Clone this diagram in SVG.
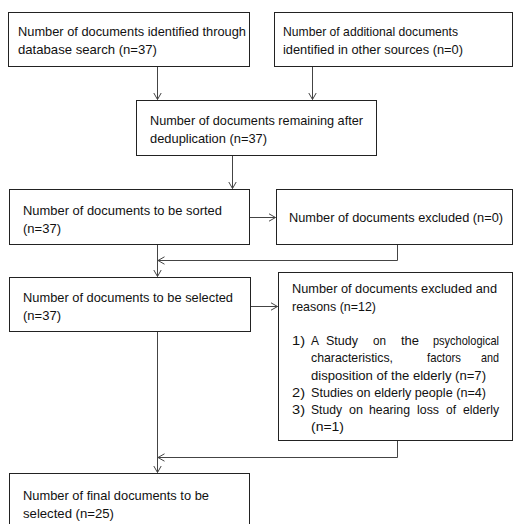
<svg xmlns="http://www.w3.org/2000/svg" width="514" height="524" viewBox="0 0 514 524">
<style>
.box{fill:#fff;stroke:#222;stroke-width:1}
.t{font-family:"Liberation Sans","DejaVu Sans",sans-serif;font-size:13px;fill:#111}
.c{fill:none;stroke:#444;stroke-width:1}
</style>
<defs>
<marker id="ah" markerUnits="userSpaceOnUse" markerWidth="8" markerHeight="9" viewBox="0 0 8 9" refX="7" refY="4.5" orient="auto">
<path d="M0.5,0.8 L7,4.5 L0.5,8.2" fill="none" stroke="#444" stroke-width="1"/>
</marker>
</defs>
<rect width="514" height="524" fill="#fff"/>
<g id="connectors">
<path class="c" d="M157.5,67 V99.5" marker-end="url(#ah)"/>
<path class="c" d="M312.5,67 V99.5" marker-end="url(#ah)"/>
<path class="c" d="M232.5,156 V188.5" marker-end="url(#ah)"/>
<path class="c" d="M249.5,217.5 H275.5" marker-end="url(#ah)"/>
<path class="c" d="M397.5,245 V260.5 H158" marker-end="url(#ah)"/>
<path class="c" d="M157.5,245 V276.5" marker-end="url(#ah)"/>
<path class="c" d="M250.5,306.5 H277.5" marker-end="url(#ah)"/>
<path class="c" d="M397.5,441 V457.5 H158" marker-end="url(#ah)"/>
<path class="c" d="M157.5,332 V472.5" marker-end="url(#ah)"/>
</g>
<g id="n1">
<rect class="box" x="8.5" y="12.5" width="241" height="54"/>
<text class="t" x="18" y="36" textLength="228" lengthAdjust="spacingAndGlyphs">Number of documents identified through</text>
<text class="t" x="18" y="54" textLength="139" lengthAdjust="spacingAndGlyphs">database search (n=37)</text>
</g>
<g id="n2">
<rect class="box" x="274.5" y="12.5" width="238" height="54"/>
<text class="t" x="283" y="36" textLength="175" lengthAdjust="spacingAndGlyphs">Number of additional documents</text>
<text class="t" x="283" y="54" textLength="180" lengthAdjust="spacingAndGlyphs">identified in other sources (n=0)</text>
</g>
<g id="n3">
<rect class="box" x="136.5" y="100.5" width="240" height="55"/>
<text class="t" x="150" y="125" textLength="213" lengthAdjust="spacingAndGlyphs">Number of documents remaining after</text>
<text class="t" x="150" y="143" textLength="117" lengthAdjust="spacingAndGlyphs">deduplication (n=37)</text>
</g>
<g id="n4">
<rect class="box" x="9.5" y="189.5" width="240" height="55"/>
<text class="t" x="23" y="215" textLength="199" lengthAdjust="spacingAndGlyphs">Number of documents to be sorted</text>
<text class="t" x="23" y="233" textLength="38" lengthAdjust="spacingAndGlyphs">(n=37)</text>
</g>
<g id="n5">
<rect class="box" x="276.5" y="189.5" width="236" height="55"/>
<text class="t" x="289" y="222" textLength="214" lengthAdjust="spacingAndGlyphs">Number of documents excluded (n=0)</text>
</g>
<g id="n6">
<rect class="box" x="9.5" y="277.5" width="241" height="54"/>
<text class="t" x="23" y="302" textLength="210" lengthAdjust="spacingAndGlyphs">Number of documents to be selected</text>
<text class="t" x="23" y="320" textLength="38" lengthAdjust="spacingAndGlyphs">(n=37)</text>
</g>
<g id="n7">
<rect class="box" x="278.5" y="272.5" width="234" height="168"/>
<text class="t" x="292" y="293" textLength="205" lengthAdjust="spacingAndGlyphs">Number of documents excluded and</text>
<text class="t" x="292" y="311" textLength="84" lengthAdjust="spacingAndGlyphs">reasons (n=12)</text>
<text class="t" x="292" y="345" textLength="13" lengthAdjust="spacingAndGlyphs">1)</text>
<text class="t" x="311" y="345" textLength="8" lengthAdjust="spacingAndGlyphs">A</text>
<text class="t" x="326" y="345" textLength="32" lengthAdjust="spacingAndGlyphs">Study</text>
<text class="t" x="373" y="345" textLength="13" lengthAdjust="spacingAndGlyphs">on</text>
<text class="t" x="401" y="345" textLength="18" lengthAdjust="spacingAndGlyphs">the</text>
<text class="t" x="433" y="345" textLength="66" lengthAdjust="spacingAndGlyphs">psychological</text>
<text class="t" x="311" y="362" textLength="82" lengthAdjust="spacingAndGlyphs">characteristics,</text>
<text class="t" x="427" y="362" textLength="34" lengthAdjust="spacingAndGlyphs">factors</text>
<text class="t" x="481" y="362" textLength="18" lengthAdjust="spacingAndGlyphs">and</text>
<text class="t" x="311" y="380" textLength="175" lengthAdjust="spacingAndGlyphs">disposition of the elderly (n=7)</text>
<text class="t" x="292" y="397" textLength="13" lengthAdjust="spacingAndGlyphs">2)</text>
<text class="t" x="311" y="397" textLength="175" lengthAdjust="spacingAndGlyphs">Studies on elderly people (n=4)</text>
<text class="t" x="292" y="414" textLength="13" lengthAdjust="spacingAndGlyphs">3)</text>
<text class="t" x="311" y="414" textLength="31" lengthAdjust="spacingAndGlyphs">Study</text>
<text class="t" x="349" y="414" textLength="14" lengthAdjust="spacingAndGlyphs">on</text>
<text class="t" x="369" y="414" textLength="41" lengthAdjust="spacingAndGlyphs">hearing</text>
<text class="t" x="417" y="414" textLength="22" lengthAdjust="spacingAndGlyphs">loss</text>
<text class="t" x="446" y="414" textLength="10" lengthAdjust="spacingAndGlyphs">of</text>
<text class="t" x="463" y="414" textLength="36" lengthAdjust="spacingAndGlyphs">elderly</text>
<text class="t" x="311" y="431" textLength="33" lengthAdjust="spacingAndGlyphs">(n=1)</text>
</g>
<g id="n8">
<rect class="box" x="9.5" y="473.5" width="240" height="60"/>
<text class="t" x="23" y="500" textLength="186" lengthAdjust="spacingAndGlyphs">Number of final documents to be</text>
<text class="t" x="23" y="518" textLength="91" lengthAdjust="spacingAndGlyphs">selected (n=25)</text>
</g>
</svg>
